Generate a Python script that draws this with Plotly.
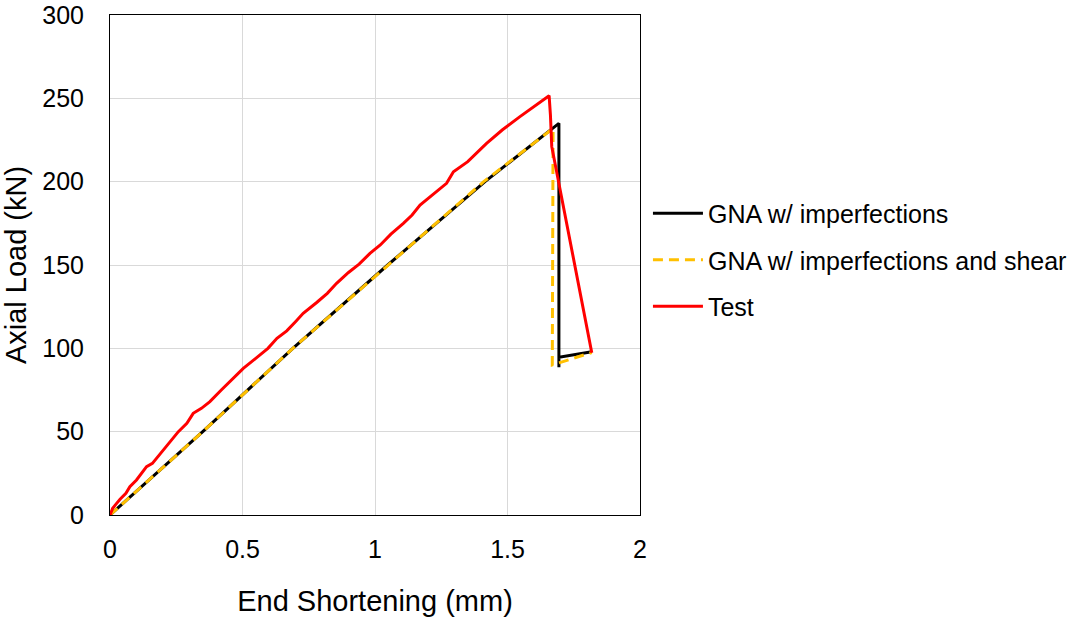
import plotly.graph_objects as go

# GNA model with imperfections (end shortening in mm, axial load in kN)
gna_x = [0.0, 0.35, 0.69, 1.048, 1.415, 1.694, 1.694, 1.694, 1.818]
gna_y = [0.0, 50.0, 100.0, 150.0, 200.0, 235.0, 88.6, 94.6, 98.0]

# GNA model with imperfections and shear
gnas_x = [0.0, 0.35, 0.69, 1.048, 1.41, 1.672, 1.669, 1.818]
gnas_y = [0.0, 50.0, 100.0, 150.0, 200.0, 232.0, 90.0, 97.5]

# Test measurement
test_x = [0.0, 0.01, 0.025, 0.038, 0.06, 0.075, 0.1, 0.138, 0.16, 0.201, 0.23,
          0.258, 0.29, 0.314, 0.345, 0.377, 0.42, 0.46, 0.503, 0.55, 0.596,
          0.63, 0.667, 0.7, 0.729, 0.78, 0.82, 0.855, 0.9, 0.94, 0.981,
          1.02, 1.06, 1.107, 1.14, 1.17, 1.22, 1.27, 1.296, 1.35, 1.421,
          1.48, 1.547, 1.6, 1.657, 1.662, 1.667, 1.818]
test_y = [0.0, 4.0, 7.0, 9.5, 13.0, 17.0, 21.0, 29.0, 31.0, 39.0, 44.5,
          50.0, 55.0, 61.0, 64.0, 68.0, 75.0, 81.5, 88.0, 94.0, 100.0,
          106.0, 110.5, 116.0, 121.0, 127.5, 133.0, 139.0, 145.5, 150.5, 157.0,
          162.0, 168.5, 175.0, 180.0, 186.0, 192.5, 199.0, 206.0, 212.0, 223.0,
          231.0, 239.0, 245.0, 251.6, 240.0, 221.0, 97.4]

font_family = "Arial, 'Liberation Sans', sans-serif"

fig = go.Figure()
fig.add_trace(go.Scatter(
    x=gna_x, y=gna_y, mode="lines", name="GNA w/ imperfections",
    line=dict(color="#000000", width=3), legendgroup="a"))
fig.add_trace(go.Scatter(
    x=gnas_x, y=gnas_y, mode="lines", name="GNA w/ imperfections and shear",
    line=dict(color="#FFC000", width=3, dash="10px,6px"), legendgroup="b"))
fig.add_trace(go.Scatter(
    x=test_x, y=test_y, mode="lines", name="Test",
    line=dict(color="#FF0000", width=3), legendgroup="c"))

axis_common = dict(
    showgrid=True, gridcolor="#d9d9d9", gridwidth=1,
    showline=True, linecolor="#000000", linewidth=1, mirror=True,
    zeroline=False, ticks="outside", tickcolor="rgba(0,0,0,0)",
    automargin=False,
    tickfont=dict(family=font_family, size=25, color="#000000"),
)

fig.update_layout(
    width=1085, height=621,
    margin=dict(l=110, r=445, t=15, b=106),
    paper_bgcolor="white", plot_bgcolor="white",
    font=dict(family=font_family, color="#000000"),
    xaxis=dict(range=[0, 2], dtick=0.5, ticklen=12,
               title=dict(text="End Shortening (mm)", standoff=28,
                          font=dict(family=font_family, size=29)),
               **axis_common),
    yaxis=dict(range=[0, 300], dtick=50, ticklen=20,
               title=dict(text="Axial Load (kN)", standoff=12,
                          font=dict(family=font_family, size=29)),
               **axis_common),
    legend=dict(x=1.015, y=0.51, xanchor="left", yanchor="middle",
                font=dict(family=font_family, size=25, color="#000000"),
                traceorder="grouped", tracegroupgap=11,
                bgcolor="rgba(0,0,0,0)", itemwidth=50),
    showlegend=True,
)

fig.write_html("out.html")
